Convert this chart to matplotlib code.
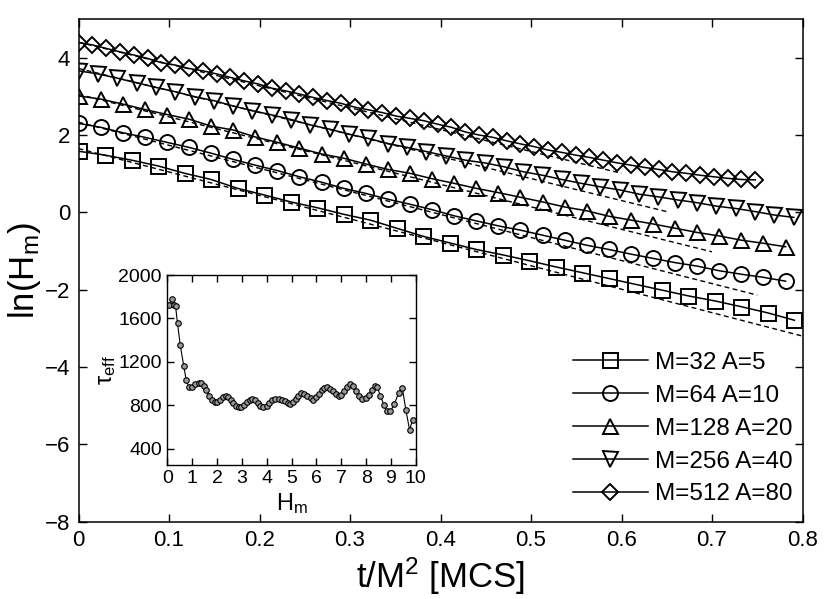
import numpy as np
import matplotlib
matplotlib.use('Agg')
import matplotlib.pyplot as plt

plt.rcParams['font.family'] = ['Liberation Sans', 'DejaVu Sans']
plt.rcParams['mathtext.fontset'] = 'custom'
plt.rcParams['mathtext.rm'] = 'Liberation Sans'
plt.rcParams['mathtext.it'] = 'Liberation Sans'
plt.rcParams['mathtext.bf'] = 'Liberation Sans:bold'

# t/M^2 values for each system size
x_32 = [0.0, 0.0293, 0.0586, 0.0879, 0.1172, 0.1465, 0.1758, 0.2051, 0.2344, 0.2637,
        0.2930, 0.3223, 0.3516, 0.3809, 0.4102, 0.4395, 0.4688, 0.4980, 0.5273, 0.5566,
        0.5859, 0.6152, 0.6445, 0.6738, 0.7031, 0.7324, 0.7617, 0.7910]
y_32 = [1.58, 1.48, 1.35, 1.20, 1.01, 0.85, 0.62, 0.45, 0.27, 0.12,
        -0.05, -0.20, -0.41, -0.62, -0.79, -0.96, -1.10, -1.25, -1.41, -1.56,
        -1.71, -1.86, -2.01, -2.16, -2.29, -2.44, -2.60, -2.79]

x_64 = [0.0, 0.0244, 0.0488, 0.0732, 0.0977, 0.1221, 0.1465, 0.1709, 0.1953, 0.2197,
        0.2441, 0.2686, 0.2930, 0.3174, 0.3418, 0.3662, 0.3906, 0.4150, 0.4395, 0.4639,
        0.4883, 0.5127, 0.5371, 0.5615, 0.5859, 0.6104, 0.6348, 0.6592, 0.6836, 0.7080,
        0.7324, 0.7568, 0.7813]
y_64 = [2.30, 2.20, 2.06, 1.94, 1.81, 1.68, 1.53, 1.37, 1.22, 1.08,
        0.92, 0.78, 0.62, 0.49, 0.34, 0.21, 0.07, -0.09, -0.22, -0.35,
        -0.46, -0.59, -0.72, -0.85, -0.96, -1.08, -1.19, -1.30, -1.39, -1.51,
        -1.60, -1.68, -1.78]

x_128 = x_64
y_128 = [3.01, 2.93, 2.80, 2.66, 2.53, 2.41, 2.23, 2.13, 1.95, 1.81,
         1.66, 1.51, 1.40, 1.25, 1.11, 1.01, 0.87, 0.75, 0.62, 0.51,
         0.39, 0.27, 0.14, 0.04, -0.10, -0.20, -0.30, -0.41, -0.52, -0.61,
         -0.72, -0.80, -0.89]

x_256 = [0.0, 0.0214, 0.0427, 0.0641, 0.0854, 0.1068, 0.1282, 0.1495, 0.1709, 0.1922,
         0.2136, 0.2350, 0.2563, 0.2777, 0.2990, 0.3204, 0.3418, 0.3631, 0.3845, 0.4058,
         0.4272, 0.4486, 0.4699, 0.4913, 0.5126, 0.5340, 0.5554, 0.5767, 0.5981, 0.6194,
         0.6408, 0.6622, 0.6835, 0.7049, 0.7262, 0.7476, 0.7690, 0.7903]
y_256 = [3.66, 3.58, 3.47, 3.35, 3.23, 3.12, 2.99, 2.89, 2.75, 2.63,
         2.52, 2.40, 2.26, 2.15, 2.02, 1.91, 1.78, 1.68, 1.57, 1.46,
         1.35, 1.28, 1.18, 1.05, 0.96, 0.85, 0.75, 0.66, 0.58, 0.47,
         0.40, 0.32, 0.25, 0.16, 0.10, 0.02, -0.07, -0.13]

x_512 = [0.0, 0.0153, 0.0305, 0.0458, 0.0610, 0.0763, 0.0916, 0.1068, 0.1221, 0.1373,
         0.1526, 0.1678, 0.1831, 0.1984, 0.2136, 0.2289, 0.2441, 0.2594, 0.2747, 0.2899,
         0.3052, 0.3204, 0.3357, 0.3510, 0.3662, 0.3815, 0.3967, 0.4120, 0.4272, 0.4425,
         0.4578, 0.4730, 0.4883, 0.5035, 0.5188, 0.5341, 0.5493, 0.5646, 0.5798, 0.5951,
         0.6104, 0.6256, 0.6409, 0.6561, 0.6714, 0.6867, 0.7019, 0.7172, 0.7324, 0.7477]
y_512 = [4.39, 4.33, 4.24, 4.15, 4.07, 3.98, 3.87, 3.81, 3.72, 3.66,
         3.58, 3.49, 3.40, 3.32, 3.21, 3.14, 3.06, 2.97, 2.89, 2.82,
         2.72, 2.65, 2.58, 2.49, 2.43, 2.37, 2.28, 2.20, 2.08, 2.00,
         1.94, 1.85, 1.77, 1.70, 1.61, 1.55, 1.48, 1.42, 1.35, 1.28,
         1.22, 1.16, 1.11, 1.05, 1.01, 0.96, 0.92, 0.88, 0.85, 0.84]

labels = ['M=32 A=5', 'M=64 A=10', 'M=128 A=20', 'M=256 A=40', 'M=512 A=80']

# straight-line fits (dashed): end points
fit_x_end = [0.80, 0.75, 0.70, 0.65, 0.60]
fit_y_start = [1.65, 2.33, 3.05, 3.72, 4.40]
fit_y_end = [-3.20, -2.14, -1.02, 0.02, 1.01]

# inset: tau_eff vs H_m
h_m = [0.07, 0.18, 0.27, 0.33, 0.41, 0.52, 0.66, 0.76, 0.87, 1.00,
       1.13, 1.27, 1.37, 1.48, 1.57, 1.68, 1.80, 1.91, 2.01, 2.12,
       2.24, 2.35, 2.44, 2.55, 2.66, 2.76, 2.87, 2.97, 3.08, 3.19,
       3.31, 3.40, 3.51, 3.64, 3.75, 3.87, 4.00, 4.11, 4.22, 4.35,
       4.48, 4.60, 4.72, 4.84, 4.95, 5.07, 5.18, 5.28, 5.40, 5.51,
       5.64, 5.78, 5.88, 6.00, 6.11, 6.22, 6.32, 6.44, 6.55, 6.67,
       6.80, 6.91, 7.00, 7.11, 7.24, 7.35, 7.47, 7.59, 7.71, 7.84,
       7.98, 8.10, 8.22, 8.34, 8.44, 8.58, 8.71, 8.84, 8.98, 9.14,
       9.31, 9.46, 9.60, 9.75, 9.88]
tau_eff = [1722, 1778, 1722, 1716, 1554, 1354, 1164, 1032, 970, 965,
           993, 1008, 1002, 980, 940, 888, 848, 827, 827, 848,
           873, 888, 879, 848, 818, 796, 781, 781, 802, 827,
           848, 857, 846, 822, 797, 782, 797, 822, 846, 862,
           862, 852, 837, 822, 813, 831, 859, 889, 914, 908,
           889, 868, 852, 877, 908, 938, 960, 969, 951, 929,
           908, 883, 898, 929, 969, 1000, 975, 929, 889, 859,
           868, 898, 938, 975, 969, 889, 806, 745, 745, 813,
           914, 960, 760, 576, 668]

xs = [x_32, x_64, x_128, x_256, x_512]
ys = [y_32, y_64, y_128, y_256, y_512]
markers = ['s', 'o', '^', 'v', 'D']
msizes = [10.8, 10.8, 10.8, 10.8, 8.0]

fig = plt.figure(figsize=(8.3, 5.99), dpi=100)
ax = fig.add_axes([0.0946, 0.1290, 0.8723, 0.8393])

# dashed straight-line fits
for i in range(5):
    ax.plot([0, fit_x_end[i]], [fit_y_start[i], fit_y_end[i]], color='k',
            linestyle=(0, (3.5, 2.5)), linewidth=1.0)
# simulation data
for i in range(5):
    ax.plot(xs[i], ys[i], color='k', linewidth=1.1, marker=markers[i],
            markersize=msizes[i], markerfacecolor='none', markeredgecolor='k',
            markeredgewidth=1.4, label=labels[i])

ax.set_xlim(0, 0.8)
ax.set_ylim(-8, 5)
ax.set_xticks([0, 0.1, 0.2, 0.3, 0.4, 0.5, 0.6, 0.7, 0.8])
ax.set_xticklabels(['0', '0.1', '0.2', '0.3', '0.4', '0.5', '0.6', '0.7', '0.8'])
ax.set_yticks([-8, -6, -4, -2, 0, 2, 4])
ax.tick_params(direction='in', top=True, right=True, length=6, width=1,
               labelsize=16, pad=6)
for s in ax.spines.values():
    s.set_linewidth(1.1)
ax.set_xlabel(r't/M$^2$ [MCS]', fontsize=25, labelpad=3)
ax.set_ylabel(r'ln(H$_{\rm m}$)', fontsize=25, labelpad=1)

ax.legend(loc='lower right', bbox_to_anchor=(1.0, 0.013), frameon=False,
          fontsize=17.5, numpoints=1, handlelength=3.1, handletextpad=0.3,
          labelspacing=0.45, borderaxespad=0.0)

# inset
axin = fig.add_axes([0.2016, 0.2245, 0.2993, 0.3164])
axin.plot(h_m, tau_eff, color='k', linewidth=0.8, marker='o', markersize=4,
          markerfacecolor='0.6', markeredgecolor='k', markeredgewidth=0.8)
axin.set_xlim(0, 10)
axin.set_ylim(255, 2000)
axin.set_xticks(range(0, 11))
axin.set_yticks([400, 800, 1200, 1600, 2000])
axin.tick_params(direction='in', top=True, right=True, length=5, width=1,
                 labelsize=14, pad=4)
for s in axin.spines.values():
    s.set_linewidth(1.0)
axin.set_xlabel(r'H$_{\rm m}$', fontsize=17, labelpad=3)
axin.set_ylabel(r'$\tau_{\rm eff}$', fontsize=17, labelpad=0)

fig.savefig('out.png', dpi=100)
